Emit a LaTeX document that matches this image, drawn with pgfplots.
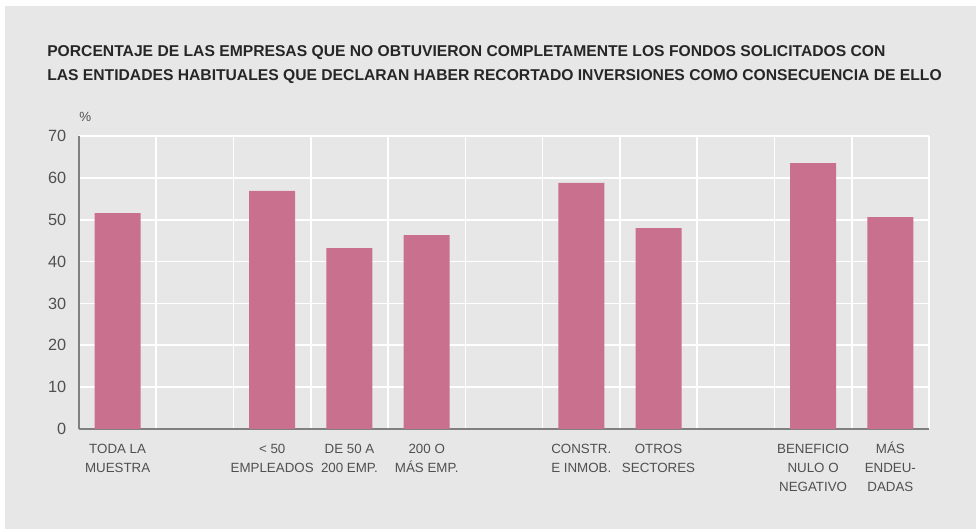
\documentclass[border=0pt]{standalone}
\usepackage{pgfplots}
\pgfplotsset{compat=1.18}
\usepackage{fontspec}
\setmainfont{Liberation Sans}
\definecolor{bg}{RGB}{231,231,231}
\definecolor{bar}{RGB}{202,112,143}
\definecolor{txt}{RGB}{80,80,80}
\definecolor{axl}{RGB}{128,128,128}
\begin{document}
\begin{tikzpicture}
\path[use as bounding box, fill=white] (0pt,0pt) rectangle (732pt,396.75pt);
\fill[bg] (3.75pt,0pt) rectangle (732pt,392.25pt);
\node[anchor=base west, inner sep=0pt, font=\fontsize{11.75}{14}\selectfont\bfseries, text=black!85] at (35.25pt,354pt) {PORCENTAJE DE LAS EMPRESAS QUE NO OBTUVIERON COMPLETAMENTE LOS FONDOS SOLICITADOS CON};
\node[anchor=base west, inner sep=0pt, font=\fontsize{11.75}{14}\selectfont\bfseries, text=black!85] at (35.25pt,336pt) {LAS ENTIDADES HABITUALES QUE DECLARAN HABER RECORTADO INVERSIONES COMO CONSECUENCIA DE ELLO};
\node[anchor=base west, inner sep=0pt, font=\fontsize{10}{12}\selectfont, text=txt] at (59.25pt,305.25pt) {\%};
\begin{axis}[
  at={(59.25pt,75pt)}, anchor=south west,
  scale only axis, width=637.5pt, height=219.75pt,
  xmin=-0.5, xmax=10.5, ymin=0, ymax=70,
  ybar, bar width=34.5pt,
  axis x line*=bottom, axis y line*=left,
  axis line style={draw=axl, line width=0.9pt, -},
  ytick={0,10,...,70},
  ymajorgrids, grid style={white, line width=1.2pt},
  xtick={0,2,3,4,6,7,9,10},
  xticklabels={{\vphantom{Á}TODA LA\\MUESTRA},{\vphantom{Á}< 50\\EMPLEADOS},{\vphantom{Á}DE 50 A\\200 EMP.},{\vphantom{Á}200 O\\MÁS EMP.},{\vphantom{Á}CONSTR.\\E INMOB.},{\vphantom{Á}OTROS\\SECTORES},{\vphantom{Á}BENEFICIO\\NULO O\\NEGATIVO},{\vphantom{Á}MÁS\\ENDEU-\\DADAS}},
  minor xtick={0.5,1.5,...,10.5},
  xminorgrids, minor grid style={white, line width=1.2pt},
  major tick length=0pt, minor tick length=0pt,
  xticklabel style={align=center, font=\fontsize{10}{14.25}\selectfont, text=txt, yshift=-6.5pt},
  yticklabel style={font=\fontsize{12.2}{14}\selectfont, text=txt, xshift=-6pt},
  /pgf/number format/assume math mode=true,
]
\addplot[fill=bar, draw=none] coordinates {(0,51.6) (2,56.9) (3,43.2) (4,46.3) (6,58.8) (7,48.0) (9,63.5) (10,50.6)};
\end{axis}
\end{tikzpicture}
\end{document}
